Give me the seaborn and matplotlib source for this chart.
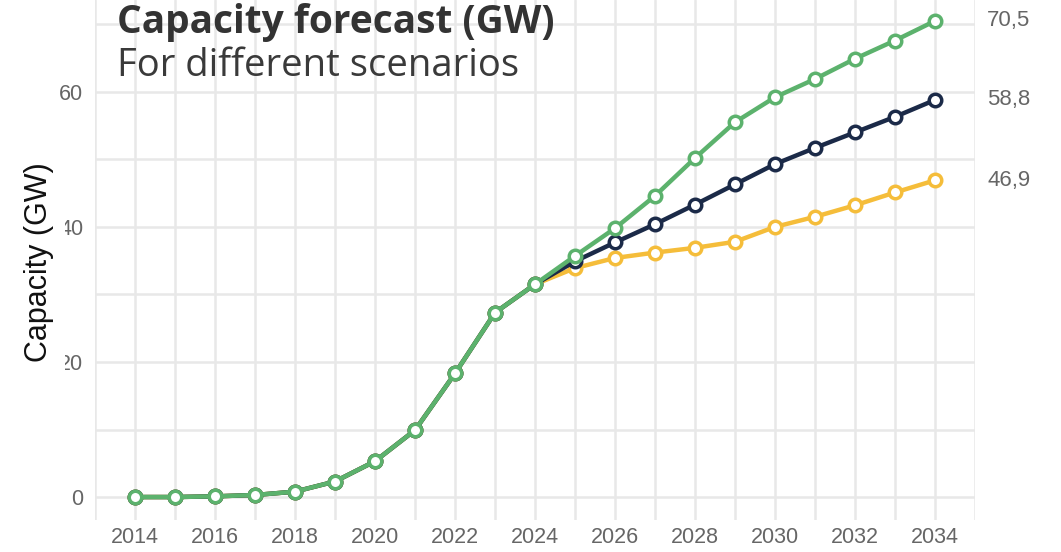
import matplotlib
matplotlib.use("Agg")
import matplotlib.pyplot as plt
from matplotlib.ticker import MultipleLocator
import pandas as pd
import seaborn as sns

# data (GW)
years = list(range(2014, 2035))
history = [0.0, 0.0, 0.1, 0.3, 0.8, 2.3, 5.3, 9.9, 18.3, 27.3, 31.5]
high = history + [35.7, 39.8, 44.6, 50.2, 55.5, 59.2, 61.9, 64.9, 67.6, 70.5]
base = history + [34.9, 37.7, 40.4, 43.3, 46.3, 49.3, 51.7, 54.0, 56.3, 58.8]
low = history + [33.9, 35.4, 36.2, 36.9, 37.8, 40.0, 41.5, 43.2, 45.1, 46.9]
end_labels = ["70,5", "58,8", "46,9"]

scenarios = ["High", "Base", "Low"]
colors = {"High": "#5cb26d", "Base": "#1b2a48", "Low": "#f5bd3a"}

df = pd.DataFrame({
    "year": years * 3,
    "capacity": high + base + low,
    "scenario": ["High"] * len(years) + ["Base"] * len(years) + ["Low"] * len(years),
})

sns.set_style("white")
plt.rcParams["font.family"] = ["Liberation Sans", "DejaVu Sans"]

fig = plt.figure(figsize=(10.61, 5.52), dpi=100)
ax = fig.add_axes([95 / 1061, 32 / 552, 880 / 1061, 520 / 552])

# draw low first so green ends up on top
for name in ["Low", "Base", "High"]:
    sns.lineplot(data=df[df["scenario"] == name], x="year", y="capacity",
                 color=colors[name], linewidth=3.2, marker="o", markersize=9,
                 markerfacecolor="white", markeredgecolor=colors[name],
                 markeredgewidth=2.5, ax=ax, legend=False, zorder=3)

ax.set_xlim(2013, 2035)
ax.set_ylim(-3.4, 73.6)
ax.xaxis.set_minor_locator(MultipleLocator(1))
ax.yaxis.set_major_locator(MultipleLocator(20))
ax.yaxis.set_minor_locator(MultipleLocator(10))
ax.set_xticks([y for y in years if y % 2 == 0])
ax.grid(True, which="both", color="#e8e8e8", linewidth=1.8)
ax.set_axisbelow(True)
for s in ax.spines.values():
    s.set_visible(False)
ax.tick_params(axis="both", which="both", length=0, colors="#666666",
               labelsize=15.5)
ax.tick_params(axis="x", pad=5)
ax.tick_params(axis="y", pad=8.5)

ax.set_xlabel("")
ax.set_ylabel("Capacity (GW)", fontsize=22, color="#111111",
              bbox=dict(facecolor="white", edgecolor="none", pad=8))
ax.yaxis.set_label_coords(-0.047, 0.496)

for val, lab in zip([high[-1], base[-1], low[-1]], end_labels):
    ax.text(1.014, val, lab, transform=ax.get_yaxis_transform(), ha="left",
            va="center", fontsize=16, color="#666666")

fig.text(117 / 1061, 1 - 33 / 552, "Capacity forecast (GW)", fontsize=28,
         fontweight="bold", color="#333333", ha="left", va="baseline",
         family=["Open Sans", "DejaVu Sans"])
fig.text(117 / 1061, 1 - 76 / 552, "For different scenarios", fontsize=27.5,
         color="#3a3a3a", ha="left", va="baseline",
         family=["Open Sans", "DejaVu Sans"])

fig.savefig("out.png", dpi=100)
